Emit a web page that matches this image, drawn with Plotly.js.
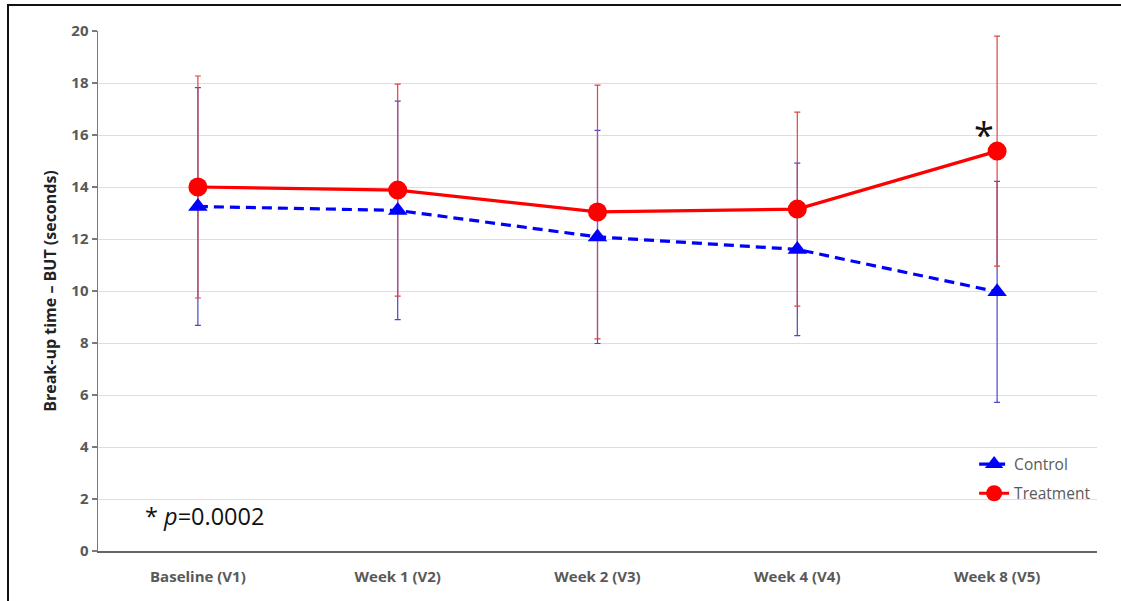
<!DOCTYPE html>
<html>
<head>
<meta charset="utf-8">
<script src="https://cdn.plot.ly/plotly-3.0.1.min.js"></script>
<style>
  html, body { margin: 0; padding: 0; background: #fff; }
  #wrap { position: relative; width: 1121px; height: 601px; }
  #chart { width: 1121px; height: 601px; }
  #frame { position: absolute; left: 7px; top: 4px; right: 0; bottom: 0;
           border-left: 2px solid #111; border-top: 2px solid #111; pointer-events: none; }
</style>
</head>
<body>
<div id="wrap">
  <div id="chart"></div>
  <div id="frame"></div>
</div>
<script>
const visits = ["Baseline (V1)", "Week 1 (V2)", "Week 2 (V3)", "Week 4 (V4)", "Week 8 (V5)"];
const controlMean = [13.25, 13.1, 12.08, 11.6, 9.97];
const controlSD   = [4.57, 4.2, 4.1, 3.32, 4.25];
const treatmentMean = [14.0, 13.88, 13.04, 13.15, 15.38];
const treatmentSD   = [4.27, 4.08, 4.88, 3.73, 4.42];
const yTicks = [0, 2, 4, 6, 8, 10, 12, 14, 16, 18, 20];

const errTrace = (y, sd, color) => ({
  x: visits, y: y, type: "scatter", mode: "markers",
  marker: { opacity: 0, size: 1 }, showlegend: false, hoverinfo: "skip",
  error_y: { type: "data", array: sd, visible: true, color: color, thickness: 1.2, width: 3 }
});

const data = [
  errTrace(controlMean, controlSD, "#4848c8"),
  errTrace(treatmentMean, treatmentSD, "#dc4444"),
  {
    x: visits, y: controlMean, type: "scatter", mode: "lines+markers", name: "Control",
    legendgroup: "c",
    line: { color: "#0000ff", width: 3.2, dash: "10px,6px" },
    marker: { symbol: "triangle-up", size: 17, color: "#0000ff" },
    hoverinfo: "skip"
  },
  {
    x: visits, y: treatmentMean, type: "scatter", mode: "lines+markers", name: "Treatment",
    legendgroup: "t",
    line: { color: "#ff0000", width: 3.2 },
    marker: { symbol: "circle", size: 19, color: "#ff0000" },
    hoverinfo: "skip"
  }
];

const tickFont = { family: "'Open Sans', sans-serif", size: 15, color: "#595959", weight: 700 };

const layout = {
  width: 1121, height: 601,
  margin: { l: 98, r: 24, t: 31, b: 50 },
  paper_bgcolor: "#ffffff", plot_bgcolor: "#ffffff",
  showlegend: true,
  legend: {
    x: 0.877, y: 0.199, xanchor: "left", yanchor: "top",
    bgcolor: "rgba(0,0,0,0)", traceorder: "grouped", tracegroupgap: 6,
    font: { family: "'Open Sans', sans-serif", size: 15.5, color: "#595959" }
  },
  xaxis: {
    type: "category", range: [-0.5, 4.5],
    showgrid: false, zeroline: false,
    showline: true, linecolor: "#666666", linewidth: 2,
    ticks: "", tickfont: tickFont, ticklabelstandoff: 11, fixedrange: true
  },
  yaxis: {
    range: [0, 20], tickvals: yTicks, ticktext: yTicks.map(String),
    showgrid: true, gridcolor: "#dedede", gridwidth: 1, zeroline: false,
    showline: true, linecolor: "#7a7a7a", linewidth: 1.5,
    ticks: "outside", ticklen: 5, tickcolor: "#7a7a7a", tickwidth: 1.5,
    tickfont: tickFont, fixedrange: true,
    title: { text: "Break-up time \u2013 BUT (seconds)", standoff: 10,
             font: { family: "'Open Sans', sans-serif", size: 16, color: "#222222", weight: 700 } }
  },
  annotations: [
    { xref: "paper", yref: "paper", x: 0.045, y: 0.067, xanchor: "left", yanchor: "middle",
      showarrow: false, text: "* <i>p</i>=0.0002",
      font: { family: "'Open Sans', sans-serif", size: 23.5, color: "#111" } },
    { x: 4, y: 15.0, xref: "x", yref: "y", xshift: -13, yanchor: "bottom", showarrow: false,
      text: "*", font: { family: "'Open Sans', sans-serif", size: 36, color: "#111" } }
  ]
};

Plotly.newPlot("chart", data, layout, { displayModeBar: false, staticPlot: true });
</script>
</body>
</html>
